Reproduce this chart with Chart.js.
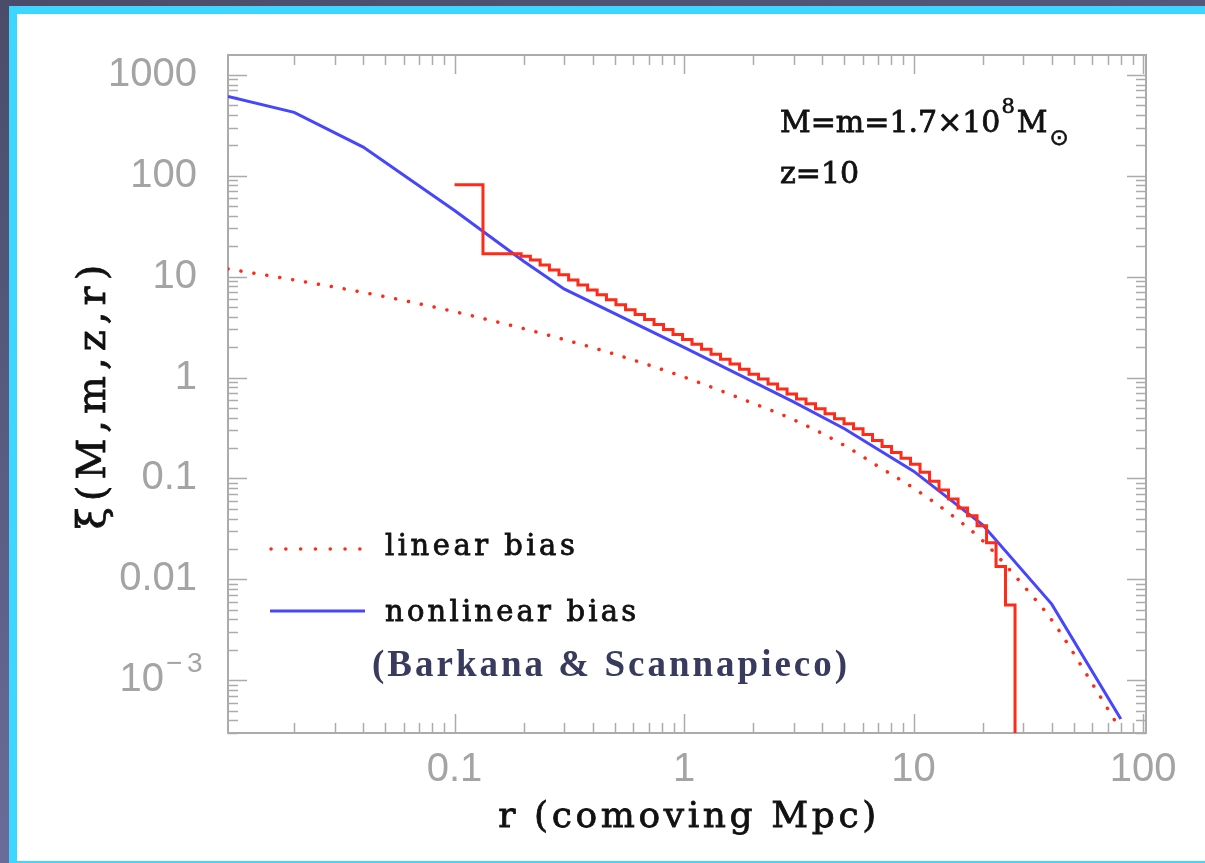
<!DOCTYPE html>
<html>
<head>
<meta charset="utf-8">
<title>xi(M,m,z,r)</title>
<script src="https://cdn.jsdelivr.net/npm/chart.js@4.4.1/dist/chart.umd.min.js"></script>
<style>
  html, body { margin: 0; padding: 0; }
  body {
    width: 1205px; height: 863px; overflow: hidden; position: relative;
    background: linear-gradient(165deg, #4a4c69 0%, #5c5e86 45%, #7a78ac 100%);
  }
  #frame {
    position: absolute; left: 9px; top: 6px;
    width: 1300px; height: 847px;
    background: #ffffff;
    border: 8px solid #3dd6ff;
  }
  #chartBox { position: absolute; left: 0; top: 0; width: 1205px; height: 863px; }
</style>
</head>
<body>
<div id="frame"></div>
<div id="chartBox"><canvas id="xiChart" width="1205" height="863"></canvas></div>
<script>
// Histogram (red steps): bin edges in r and xi per bin
const rEdges = [0.1, 0.133, 0.195, 0.214, 0.236, 0.259, 0.285, 0.314, 0.345, 0.380,
  0.418, 0.459, 0.505, 0.556, 0.612, 0.673, 0.740, 0.814, 0.895, 0.985,
  1.083, 1.192, 1.311, 1.442, 1.586, 1.745, 1.919, 2.111, 2.323, 2.555,
  2.810, 3.091, 3.400, 3.740, 4.115, 4.526, 4.979, 5.476, 6.024, 6.626,
  7.289, 8.018, 8.820, 9.702, 10.67, 11.74, 12.91, 14.20, 15.63, 17.19,
  18.91, 20.80, 22.88, 25.16, 27.68];
const xiHist = [81.2, 16.8, 15.9, 14.6, 13.0, 11.6, 10.4, 9.26, 8.27, 7.38,
  6.59, 5.89, 5.26, 4.70, 4.20, 3.75, 3.35, 2.99, 2.67, 2.38,
  2.13, 1.90, 1.70, 1.52, 1.36, 1.21, 1.08, 0.965, 0.861, 0.769,
  0.687, 0.614, 0.548, 0.489, 0.437, 0.390, 0.349, 0.311, 0.272, 0.237,
  0.207, 0.181, 0.158, 0.138, 0.115, 0.0938, 0.0766, 0.0625, 0.0510, 0.0426,
  0.0339, 0.0231, 0.0134, 0.00556];
const xiEmpty = 1e-6; // no pairs beyond the last edge

// Nonlinear bias (blue solid)
const rNonlin = [0.0103, 0.02, 0.04, 0.1, 0.2, 0.3, 1, 3, 5, 10, 20, 40, 80];
const xiNonlin = [608, 424, 192, 45.1, 14.2, 7.55, 1.99, 0.573, 0.311, 0.118, 0.0347, 0.00568, 0.000412];

// Linear bias (red dotted)
const rLin = [0.0103, 0.02, 0.05, 0.1, 0.2, 0.3, 0.5, 1, 2, 3, 5, 7, 10, 15, 20, 30, 40, 60, 77];
const xiLin = [11.9, 9.26, 6.31, 4.49, 3.05, 2.38, 1.70, 1.01, 0.554, 0.382, 0.212, 0.132,
  0.0802, 0.0416, 0.0242, 0.00873, 0.00395, 0.000931, 0.000368];

// Axes
const xRange = [0.0103, 103];
const yRange = [3.23e-4, 1570];
const xTickValues = [0.1, 1, 10, 100];
const yTickValues = [1000, 100, 10, 1, 0.1, 0.01, 0.001];

const RED = '#ff2a18';
const BLUE = '#4646ff';
const GREY = '#a4a4a4';
const INK = '#111111';

function pairs(xs, ys) {
  return xs.map((v, i) => ({ x: v, y: ys[i] }));
}

const histData = pairs(rEdges.slice(0, xiHist.length), xiHist);
histData.push({ x: rEdges[rEdges.length - 1], y: xiEmpty });

function line(ctx, x1, y1, x2, y2) {
  ctx.beginPath();
  ctx.moveTo(x1, y1);
  ctx.lineTo(x2, y2);
  ctx.stroke();
}

// Slightly heavier text: fill plus a thin outline of the same colour
function heavyText(ctx, text, x, y, weight) {
  ctx.fillText(text, x, y);
  ctx.lineWidth = weight;
  ctx.strokeStyle = ctx.fillStyle;
  ctx.strokeText(text, x, y);
}

// Box and inward log ticks on all four sides
const frameAxes = {
  id: 'frameAxes',
  beforeDatasetsDraw(chart) {
    const { ctx, chartArea: a, scales: { x, y } } = chart;
    ctx.save();
    ctx.strokeStyle = '#ababab';
    ctx.lineWidth = 1.5;
    for (let d = -3; d <= 2; d++) {
      for (let m = 1; m <= 9; m++) {
        const v = m * Math.pow(10, d);
        if (v < x.min || v > x.max) continue;
        const px = Math.round(x.getPixelForValue(v)) + 0.5;
        const len = m === 1 ? 19 : 10;
        line(ctx, px, a.bottom, px, a.bottom - len);
        line(ctx, px, a.top, px, a.top + len);
      }
    }
    for (let d = -4; d <= 3; d++) {
      for (let m = 1; m <= 9; m++) {
        const v = m * Math.pow(10, d);
        if (v < y.min || v > y.max) continue;
        const py = Math.round(y.getPixelForValue(v)) + 0.5;
        const len = m === 1 ? 19 : 10;
        line(ctx, a.left, py, a.left + len, py);
        line(ctx, a.right, py, a.right - len, py);
      }
    }
    ctx.lineWidth = 2;
    ctx.strokeRect(a.left, a.top, a.right - a.left, a.bottom - a.top);
    ctx.restore();
  },
  afterDraw(chart) {
    const { ctx, chartArea: a, scales: { y } } = chart;
    ctx.save();

    // 10^-3 tick label
    const p3 = y.getPixelForValue(0.001);
    ctx.fillStyle = GREY;
    ctx.textBaseline = 'middle';
    ctx.textAlign = 'right';
    ctx.font = '40px "Liberation Sans"';
    ctx.fillText('10', 164, p3);
    ctx.textAlign = 'left';
    ctx.font = '28px "Liberation Sans"';
    ctx.fillText('\u2212', 166, p3 - 16);
    ctx.fillText('3', 187, p3 - 16);

    // Axis titles
    ctx.fillStyle = INK;
    ctx.letterSpacing = '3.6px';
    ctx.textAlign = 'center';
    ctx.font = '36px "DejaVu Serif"';
    heavyText(ctx, 'r (comoving Mpc)', (a.left + a.right) / 2 + 2, 818, 0.8);
    ctx.save();
    ctx.translate(95, (a.top + a.bottom) / 2);
    ctx.rotate(-Math.PI / 2);
    ctx.font = '40px "DejaVu Serif"';
    ctx.letterSpacing = '6px';
    heavyText(ctx, '\u03be(M,m,z,r)', 0, 0, 0.8);
    ctx.restore();

    // Annotation
    ctx.letterSpacing = '0px';
    ctx.textAlign = 'left';
    ctx.textBaseline = 'alphabetic';
    ctx.font = '30px "DejaVu Serif"';
    let tx = 780;
    const part1 = 'M=m=1.7\u00d710';
    heavyText(ctx, part1, tx, 132, 0.8);
    tx += ctx.measureText(part1).width;
    ctx.font = '21px "DejaVu Serif"';
    heavyText(ctx, '8', tx + 1, 113, 0.6);
    tx += ctx.measureText('8').width + 3;
    ctx.font = '30px "DejaVu Serif"';
    heavyText(ctx, 'M', tx, 132, 0.8);
    tx += ctx.measureText('M').width + 2;
    ctx.font = '23px "DejaVu Sans"';
    heavyText(ctx, '\u2299', tx, 145, 0.6);
    ctx.font = '30px "DejaVu Serif"';
    heavyText(ctx, 'z=10', 780, 183, 0.8);

    // Legend
    ctx.lineCap = 'round';
    ctx.strokeStyle = RED;
    ctx.lineWidth = 3.5;
    ctx.setLineDash([0.1, 14.7]);
    line(ctx, 271, 549, 360, 549);
    ctx.setLineDash([]);
    ctx.lineCap = 'butt';
    ctx.strokeStyle = BLUE;
    ctx.lineWidth = 3;
    line(ctx, 270, 611, 365, 611);
    ctx.fillStyle = INK;
    ctx.letterSpacing = '3.5px';
    ctx.font = '29px "DejaVu Serif"';
    heavyText(ctx, 'linear bias', 385, 555, 0.8);
    ctx.letterSpacing = '3.2px';
    heavyText(ctx, 'nonlinear bias', 385, 621, 0.8);

    ctx.fillStyle = '#383b5e';
    ctx.letterSpacing = '3px';
    ctx.font = 'bold 37px "Liberation Serif"';
    ctx.fillText('(Barkana & Scannapieco)', 372, 676);
    ctx.restore();
  }
};

document.addEventListener('DOMContentLoaded', function() {
  const ctx = document.getElementById('xiChart').getContext('2d');
  new Chart(ctx, {
    type: 'line',
    data: {
      datasets: [
        {
          label: 'histogram',
          data: histData,
          borderColor: RED,
          borderWidth: 3,
          stepped: 'before',
          pointRadius: 0,
          fill: false
        },
        {
          label: 'linear bias',
          data: pairs(rLin, xiLin),
          borderColor: RED,
          borderWidth: 3.5,
          borderDash: [0.1, 13],
          borderCapStyle: 'round',
          cubicInterpolationMode: 'monotone',
          pointRadius: 0,
          fill: false
        },
        {
          label: 'nonlinear bias',
          data: pairs(rNonlin, xiNonlin),
          borderColor: BLUE,
          borderWidth: 3,
          pointRadius: 0,
          tension: 0,
          fill: false
        }
      ]
    },
    options: {
      responsive: false,
      animation: false,
      devicePixelRatio: 1,
      layout: { padding: { left: 20, right: 59, top: 52, bottom: 20 } },
      plugins: { legend: { display: false }, tooltip: { enabled: false } },
      scales: {
        x: {
          type: 'logarithmic',
          min: xRange[0],
          max: xRange[1],
          grid: { display: false, drawTicks: false },
          border: { display: false },
          afterBuildTicks: s => { s.ticks = xTickValues.map(v => ({ value: v })); },
          afterFit: s => { s.height = 110; },
          ticks: {
            autoSkip: false, maxRotation: 0, padding: 13,
            color: GREY,
            font: { family: 'Liberation Sans', size: 40 },
            callback: v => String(v)
          }
        },
        y: {
          type: 'logarithmic',
          min: yRange[0],
          max: yRange[1],
          grid: { display: false, drawTicks: false },
          border: { display: false },
          afterBuildTicks: s => { s.ticks = yTickValues.map(v => ({ value: v })); },
          afterFit: s => { s.width = 208; },
          ticks: {
            autoSkip: false, padding: 31,
            color: GREY,
            font: { family: 'Liberation Sans', size: 40 },
            callback: v => (v === 0.001 ? '' : String(v))
          }
        }
      }
    },
    plugins: [frameAxes]
  });
});
</script>
</body>
</html>
